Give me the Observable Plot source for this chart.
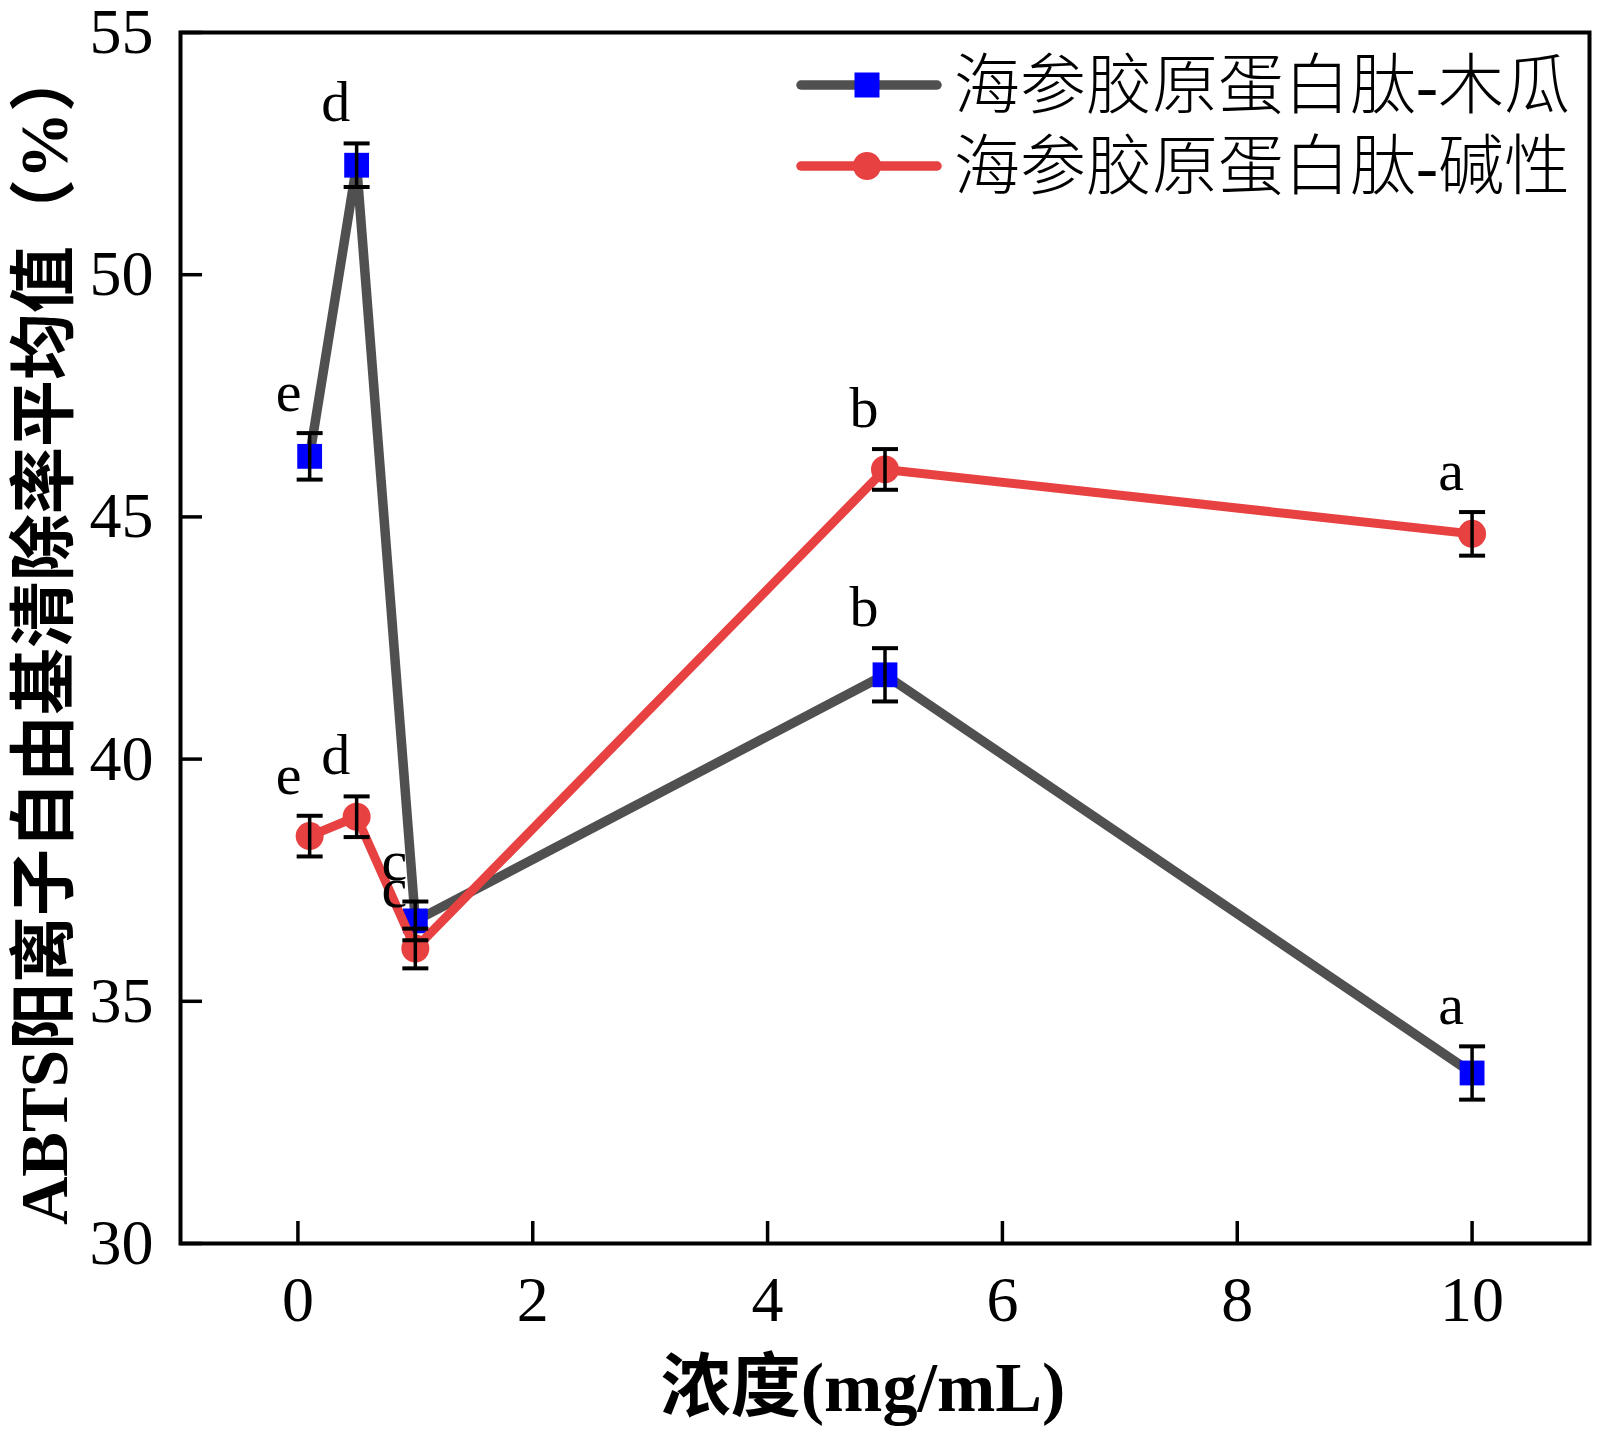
<!DOCTYPE html>
<html>
<head>
<meta charset="utf-8">
<script src="https://cdn.jsdelivr.net/npm/d3@7"></script>
<script src="https://cdn.jsdelivr.net/npm/@observablehq/plot@0.6"></script>
<style>
  html, body { margin: 0; padding: 0; background: #fff; }
  #wrap { position: relative; width: 1600px; height: 1433px; }
  #legend { position: absolute; left: 0; top: 0; pointer-events: none; }
</style>
</head>
<body>
<div id="wrap"></div>
<script>
// ---- data ----
const conc = [0.1, 0.5, 1, 5, 10];
const seriesNames = ["海参胶原蛋白肽-木瓜", "海参胶原蛋白肽-碱性"];
const papainMean = [46.25, 52.26, 36.66, 41.74, 33.52];
const papainErr = [0.48, 0.45, 0.40, 0.55, 0.55];
const papainLetters = ["e", "d", "c", "b", "a"];
const alkaliMean = [38.41, 38.81, 36.09, 45.98, 44.65];
const alkaliErr = [0.42, 0.42, 0.41, 0.42, 0.45];
const alkaliLetters = ["e", "d", "c", "b", "a"];
const xTicks = [0, 2, 4, 6, 8, 10];
const yTicks = [30, 35, 40, 45, 50, 55];
const xTitle = "浓度(mg/mL)";
const yTitle = "ABTS阳离子自由基清除率平均值（%）";

const papain = conc.map((x, i) => ({x, y: papainMean[i], e: papainErr[i], t: papainLetters[i]}));
const alkali = conc.map((x, i) => ({x, y: alkaliMean[i], e: alkaliErr[i], t: alkaliLetters[i]}));
const all = papain.concat(alkali);

const GRAY = "#505050", BLUE = "#0000ff", RED = "#e84141";
const serif = "'Liberation Serif', 'Noto Sans CJK SC', serif";
const W = 1600, H = 1433, mL = 180, mR = 11, mT = 32, mB = 190;
const plotW = W - mL - mR, plotH = H - mT - mB;

const capSymbol = { draw(ctx) { ctx.moveTo(-13, 0); ctx.lineTo(13, 0); } };

const chart = Plot.plot({
  width: W, height: H,
  marginLeft: mL, marginRight: mR, marginTop: mT, marginBottom: mB,
  style: { fontFamily: serif, background: "#fff", color: "#000" },
  x: { domain: [-1, 11] },
  y: { domain: [30, 55] },
  marks: [
    Plot.axisX({ticks: xTicks, tickSize: 0, tickPadding: 32, fontSize: 64, label: null, tickFormat: d => String(d)}),
    Plot.axisY({ticks: yTicks, tickSize: 0, tickPadding: 27, fontSize: 64, label: null, tickFormat: d => String(d)}),
    Plot.tickX(xTicks, {x: d => d, insetTop: plotH - 22, stroke: "#000", strokeWidth: 3.5}),
    Plot.tickY(yTicks, {y: d => d, insetRight: plotW - 22, stroke: "#000", strokeWidth: 3.5}),
    Plot.frame({stroke: "#000", strokeWidth: 4}),
    Plot.line(papain, {x: "x", y: "y", stroke: GRAY, strokeWidth: 9.5, strokeLinejoin: "round"}),
    Plot.dot(papain, {x: "x", y: "y", symbol: "square", r: 14, fill: BLUE, stroke: null}),
    Plot.line(alkali, {x: "x", y: "y", stroke: RED, strokeWidth: 9, strokeLinejoin: "round"}),
    Plot.dot(alkali, {x: "x", y: "y", symbol: "circle", r: 14, fill: RED, stroke: null}),
    Plot.ruleX(all, {x: "x", y1: d => d.y - d.e, y2: d => d.y + d.e, stroke: "#000", strokeWidth: 3.5}),
    Plot.dot(all, {x: "x", y: d => d.y + d.e, symbol: capSymbol, stroke: "#000", strokeWidth: 4, fill: "none"}),
    Plot.dot(all, {x: "x", y: d => d.y - d.e, symbol: capSymbol, stroke: "#000", strokeWidth: 4, fill: "none"}),
    Plot.text(all, {x: "x", y: d => d.y + d.e, text: "t", dx: -21, dy: -22, lineAnchor: "bottom", fontSize: 58, fill: "#000"}),
    Plot.text([xTitle], {text: d => d, frameAnchor: "bottom", textAnchor: "middle", dx: -22, dy: 145, lineAnchor: "middle", fontSize: 70, fontWeight: "bold", fill: "#000"}),
    Plot.text([yTitle], {text: d => d, frameAnchor: "left", textAnchor: "middle", dx: -135, dy: -3, rotate: -90, lineAnchor: "middle", fontSize: 67, fontWeight: "bold", fill: "#000"})
  ]
});
document.getElementById("wrap").appendChild(chart);

// ---- legend overlay ----
const lg = d3.select("#wrap").append("svg").attr("id", "legend").attr("width", W).attr("height", 220);
const legendItems = [
  {name: seriesNames[0], line: GRAY, marker: "square", fill: BLUE, cy: 85},
  {name: seriesNames[1], line: RED, marker: "circle", fill: RED, cy: 166}
];
legendItems.forEach(it => {
  lg.append("line").attr("x1", 801).attr("x2", 937).attr("y1", it.cy).attr("y2", it.cy)
    .attr("stroke", it.line).attr("stroke-width", 9.5).attr("stroke-linecap", "round");
  if (it.marker === "square") {
    lg.append("rect").attr("x", 867 - 12.5).attr("y", it.cy - 12.5).attr("width", 25).attr("height", 25).attr("fill", it.fill);
  } else {
    lg.append("circle").attr("cx", 867).attr("cy", it.cy).attr("r", 14).attr("fill", it.fill);
  }
  lg.append("text").attr("x", 954).attr("y", it.cy).attr("dominant-baseline", "central")
    .attr("font-family", serif).attr("font-size", 66).attr("font-weight", 300).attr("fill", "#000")
    .text(it.name);
});
</script>
</body>
</html>
